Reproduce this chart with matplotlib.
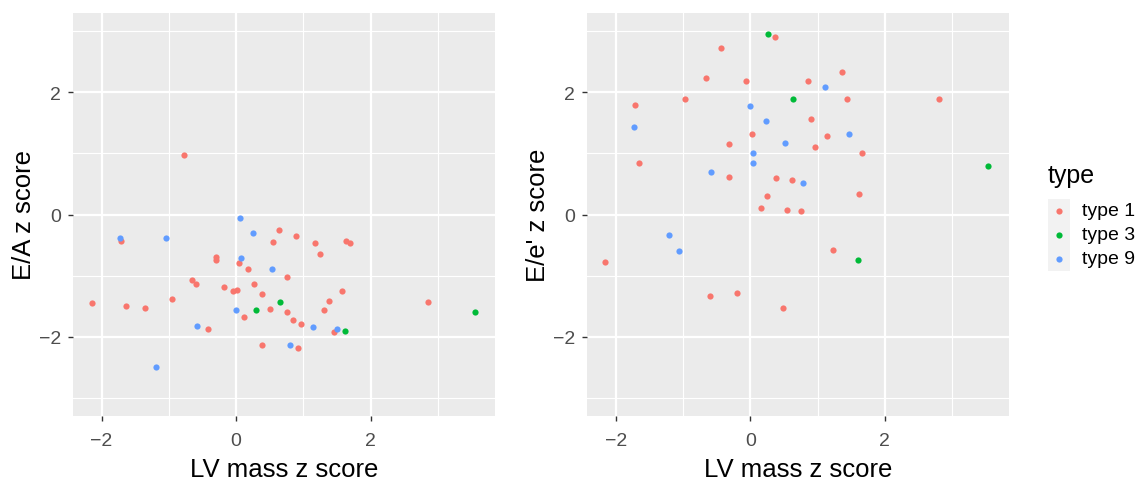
import matplotlib
matplotlib.use("Agg")
import matplotlib.pyplot as plt
from matplotlib.patches import Rectangle
import numpy as np

plt.rcParams['font.family'] = ['Liberation Sans', 'DejaVu Sans']

# ---------- data ----------
types = ["type 1", "type 3", "type 9"]
colors = {"type 1": "#F8766D", "type 3": "#00BA38", "type 9": "#619CFF"}

# Left panel: E/A z score vs LV mass z score
ea_t1_x = [-0.78, -1.71, 0.64, 0.55, 0.89, 1.17, 1.63, 1.69, 1.25, -0.30, -0.30, 0.04, 0.17,
           0.76, -0.65, -0.59, -0.18, -0.05, 0.02, 0.27, 0.39, -2.14, -1.64, -1.36, -0.95,
           0.51, 0.76, 0.11, 0.84, 0.97, 1.30, 1.38, 1.57, 1.46, -0.42, 0.39, 0.92, 2.86]
ea_t1_y = [0.97, -0.43, -0.26, -0.45, -0.36, -0.47, -0.44, -0.47, -0.65, -0.69, -0.74, -0.79, -0.90,
           -1.03, -1.07, -1.14, -1.19, -1.25, -1.23, -1.14, -1.31, -1.45, -1.50, -1.53, -1.39,
           -1.55, -1.59, -1.68, -1.72, -1.79, -1.56, -1.42, -1.26, -1.93, -1.87, -2.14, -2.19, -1.43]
ea_t3_x = [0.29, 0.65, 1.62, 3.56]
ea_t3_y = [-1.57, -1.44, -1.90, -1.59]
ea_t9_x = [0.06, -1.72, -1.04, 0.25, 0.07, 0.53, 0.00, -0.58, 1.14, 1.50, 0.80, -1.19]
ea_t9_y = [-0.05, -0.38, -0.38, -0.30, -0.71, -0.89, -1.56, -1.82, -1.85, -1.88, -2.13, -2.50]

# Right panel: E/e' z score vs LV mass z score
ee_t1_x = [0.37, -0.43, -0.66, -0.06, 0.86, 1.36, -0.97, -1.71, 1.44, 2.81, 0.90, 0.03, 1.14,
           -0.31, 0.96, 1.66, -1.66, -0.32, 0.38, 0.62, 0.25, 1.61, 0.16, 0.54, 0.75,
           -2.16, 1.23, -0.60, -0.19, 0.49]
ee_t1_y = [2.91, 2.73, 2.24, 2.18, 2.18, 2.34, 1.89, 1.80, 1.89, 1.89, 1.57, 1.32, 1.29,
           1.15, 1.10, 1.01, 0.85, 0.62, 0.60, 0.57, 0.30, 0.33, 0.10, 0.08, 0.05,
           -0.77, -0.58, -1.33, -1.28, -1.53]
ee_t3_x = [0.26, 0.63, 3.54, 1.60]
ee_t3_y = [2.95, 1.89, 0.80, -0.75]
ee_t9_x = [1.11, -0.01, -1.73, 0.24, 1.47, 0.51, 0.04, 0.04, -0.59, 0.78, -1.20, -1.06]
ee_t9_y = [2.08, 1.78, 1.43, 1.53, 1.32, 1.17, 1.00, 0.84, 0.70, 0.51, -0.33, -0.60]

x_label = "LV mass z score"
y_labels = ["E/A z score", "E/e' z score"]
x_ticks = [-2, 0, 2]
y_ticks = [-2, 0, 2]

panels = [
    {"t1": (ea_t1_x, ea_t1_y), "t3": (ea_t3_x, ea_t3_y), "t9": (ea_t9_x, ea_t9_y)},
    {"t1": (ee_t1_x, ee_t1_y), "t3": (ee_t3_x, ee_t3_y), "t9": (ee_t9_x, ee_t9_y)},
]

# ---------- figure ----------
W, H = 1141, 481
fig = plt.figure(figsize=(W / 100, H / 100), dpi=100)

def frac_box(x0, y0, x1, y1):
    return [x0 / W, 1 - y1 / H, (x1 - x0) / W, (y1 - y0) / H]

boxes = [frac_box(72.7, 14, 495, 417), frac_box(586.7, 14, 1009.3, 417)]

for box, panel, ylab in zip(boxes, panels, y_labels):
    ax = fig.add_axes(box)
    ax.set_facecolor("#EBEBEB")
    for s in ax.spines.values():
        s.set_visible(False)
    ax.set_xlim(-2.43, 3.85)
    ax.set_ylim(-3.3, 3.3)
    ax.set_xticks(x_ticks)
    ax.set_yticks(y_ticks)
    ax.set_xticks([-1, 1, 3], minor=True)
    ax.set_yticks([-3, -1, 1, 3], minor=True)
    ax.grid(which="major", color="white", linewidth=1.6)
    ax.grid(which="minor", color="white", linewidth=0.8)
    ax.set_axisbelow(True)
    ax.tick_params(which="major", length=3.5, width=1.0, color="#333333",
                   labelsize=14, labelcolor="#4D4D4D")
    ax.tick_params(axis="x", which="major", pad=8)
    ax.tick_params(axis="y", which="major", pad=5)
    ax.tick_params(which="minor", length=0)
    for key, t in zip(["t1", "t3", "t9"], types):
        xs, ys = panel[key]
        ax.scatter(xs, ys, s=20, color=colors[t], linewidths=0, zorder=3)
    ax.set_xlabel(x_label, fontsize=18.5, labelpad=6)
    ax.set_ylabel(ylab, fontsize=18.5, labelpad=2)

# ---------- legend ----------
lax = fig.add_axes([0, 0, 1, 1], facecolor="none")
lax.set_xlim(0, W)
lax.set_ylim(H, 0)
lax.axis("off")
lax.text(1048, 176, "type", fontsize=18, va="center", ha="left")
lax.add_patch(Rectangle((1047.5, 200), 22, 72, facecolor="#F2F2F2", edgecolor="none"))
for i, t in enumerate(types):
    yc = 212 + 24 * i
    lax.scatter([1058.5], [yc], s=20, color=colors[t], linewidths=0)
    lax.text(1082, yc, t, fontsize=14, va="center", ha="left")

fig.savefig("out.png", dpi=100)
